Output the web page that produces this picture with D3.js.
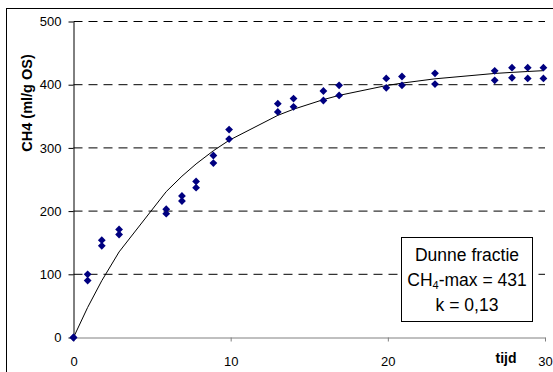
<!DOCTYPE html>
<html>
<head>
<meta charset="utf-8">
<script src="https://cdn.jsdelivr.net/npm/d3@7"></script>
<style>
  body { margin: 0; background: #fff; }
  svg { display: block; font-family: "Liberation Sans", Arial, sans-serif; }
</style>
</head>
<body>
<div id="chart"></div>
<script>
// time (days) and the two replicate measurements
var tijd = [0, 0.9, 1.8, 2.9, 5.9, 6.9, 7.8, 8.9, 9.9, 13.0, 14.0, 15.9, 16.9, 19.9, 20.9, 23.0, 26.8, 27.9, 28.9, 29.9];
var meting1 = [0, 100, 154, 171, 203, 224, 247, 288, 329, 370, 378, 390, 399, 410, 413, 418, 422, 427, 427, 427];
var meting2 = [0, 90, 145, 163, 196, 216, 237, 276, 314, 357, 365, 375, 383, 395, 399, 401, 407, 411, 410, 410];
// fitted curve values at the same times
var model = [0, 47.6, 89.9, 135.4, 230.8, 255.2, 274.6, 295.5, 312.0, 351.5, 361.2, 376.4, 383.1, 398.6, 402.5, 409.3, 417.8, 419.5, 420.9, 422.2];

var yTicks = [0, 100, 200, 300, 400, 500];
var xTicks = [0, 10, 20, 30];
var legendLines = ['Dunne fractie', 'CH4-max = 431', 'k = 0,13'];

var width = 553, height = 372;
var margin = {left: 73.5, top: 21.5, right: 8, bottom: 34.5};

var svg = d3.select('#chart')
    .append('svg')
    .attr('width', width)
    .attr('height', height);

// outer chart border (runs off the right and bottom)
svg.append('rect')
    .attr('x', 6.5).attr('y', 8.5)
    .attr('width', 600).attr('height', 400)
    .attr('fill', 'none')
    .attr('stroke', '#000');

var x = d3.scaleLinear().domain([0, 30]).range([margin.left, 545]);
var y = d3.scaleLinear().domain([0, 500]).range([337.5, margin.top]);

// gridlines
svg.append('g')
    .selectAll('line')
    .data(yTicks.filter(function(d) { return d > 0; }))
    .enter().append('line')
    .attr('x1', x(0)).attr('x2', x(30))
    .attr('y1', function(d) { return y(d); })
    .attr('y2', function(d) { return y(d); })
    .attr('stroke', '#000')
    .attr('stroke-dasharray', '9,6');

// x axis
var xAxis = svg.append('g')
    .attr('transform', 'translate(0,' + y(0) + ')')
    .call(d3.axisBottom(x).tickValues(xTicks).tickSize(4).tickPadding(15).tickSizeOuter(0));
xAxis.select('.domain').attr('stroke', '#808080');
xAxis.selectAll('.tick line').attr('stroke', '#808080');
xAxis.selectAll('.tick text').attr('font-size', 13).attr('font-family', 'Liberation Sans, Arial, sans-serif').attr('fill', '#000');

// y axis
var yAxis = svg.append('g')
    .attr('transform', 'translate(' + x(0) + ',0)')
    .call(d3.axisLeft(y).tickValues(yTicks).tickSize(5).tickPadding(7).tickSizeOuter(0));
yAxis.select('.domain').attr('stroke', '#000');
yAxis.selectAll('.tick line').attr('stroke', '#000');
yAxis.selectAll('.tick text').attr('font-size', 13).attr('font-family', 'Liberation Sans, Arial, sans-serif').attr('fill', '#000');

// fitted curve
var line = d3.line()
    .x(function(d, i) { return x(tijd[i]); })
    .y(function(d) { return y(d); });
svg.append('path')
    .datum(model)
    .attr('d', line)
    .attr('fill', 'none')
    .attr('stroke', '#000')
    .attr('stroke-width', 1);

// measured points as diamonds
var diamond = 'M0,-3.9L3.9,0L0,3.9L-3.9,0Z';
[meting1, meting2].forEach(function(serie) {
    svg.append('g')
        .selectAll('path')
        .data(serie)
        .enter().append('path')
        .attr('d', diamond)
        .attr('transform', function(d, i) { return 'translate(' + x(tijd[i]) + ',' + y(d) + ')'; })
        .attr('fill', '#000080');
});

// axis titles
svg.append('text')
    .attr('transform', 'translate(31.5,103) rotate(-90)')
    .attr('text-anchor', 'middle')
    .attr('font-size', 14.5)
    .attr('font-weight', 'bold')
    .text('CH4 (ml/g OS)');

svg.append('text')
    .attr('x', 506).attr('y', 363)
    .attr('text-anchor', 'middle')
    .attr('font-size', 14)
    .attr('font-weight', 'bold')
    .text('tijd');

// text box
var box = svg.append('g');
box.append('rect')
    .attr('x', 401.5).attr('y', 237.5)
    .attr('width', 131).attr('height', 84)
    .attr('fill', '#fff')
    .attr('stroke', '#000');

box.selectAll('text')
    .data(legendLines)
    .enter().append('text')
    .attr('x', 467)
    .attr('y', function(d, i) { return 261 + i * 25; })
    .attr('text-anchor', 'middle')
    .attr('font-size', 17.5)
    .each(function(d) {
        var t = d3.select(this);
        if (d.indexOf('CH4') === 0) {
            t.append('tspan').text('CH');
            t.append('tspan').attr('font-size', 11).attr('dy', 3).text('4');
            t.append('tspan').attr('dy', -3).text(d.slice(3));
        } else {
            t.text(d);
        }
    });
</script>
</body>
</html>
